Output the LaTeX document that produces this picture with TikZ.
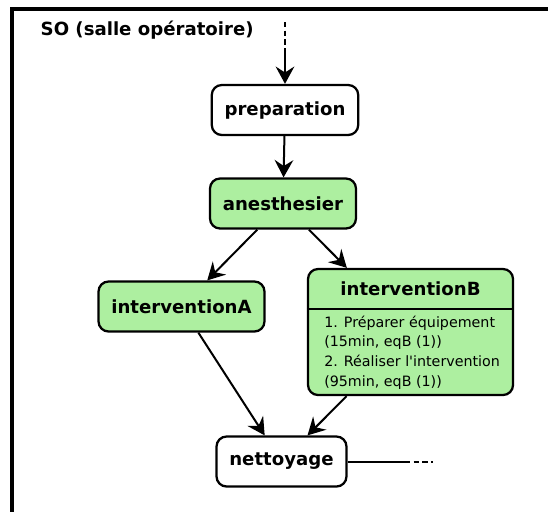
\documentclass[tikz,border=0pt]{standalone}
\usepackage{fontspec}
\setmainfont{DejaVu Sans}
\usetikzlibrary{arrows.meta}
\definecolor{actgreen}{RGB}{173,239,160}
\tikzset{
  x=0.75pt, y=-0.75pt,
  activity/.style={draw=black, line width=1.7pt, rounded corners=7.5pt,
    minimum height=37.5pt, inner xsep=9.6pt, inner ysep=0pt,
    font=\fontsize{13.6}{16}\selectfont\bfseries},
  flow/.style={line width=1.5pt, -{Stealth[length=13pt, width=14pt, inset=4.5pt]}},
  flowline/.style={line width=1.5pt},
  trail/.style={line width=1.5pt, dash pattern=on 4pt off 2.5pt}
}
\begin{document}
\begin{tikzpicture}
  \useasboundingbox (0,0) rectangle (548,511);
  \clip (0,0) rectangle (548,511);
  \fill[white] (0,0) rectangle (548,511);

  % swimlane frame and title
  \draw[line width=2.3pt] (12,530) -- (12,9) -- (560,9);
  \node[font=\fontsize{13.6}{16}\selectfont\bfseries, anchor=west] (lane) at (36,30) {SO (salle opératoire)};

  % activities
  \node[activity, fill=white] (prep) at (285,110) {preparation};
  \node[activity, fill=actgreen] (anest) at (283,203.5) {anesthesier};
  \node[activity, fill=actgreen] (intA) at (181.5,306.5) {interventionA};
  \node[activity, fill=actgreen, minimum width=153.75pt, minimum height=94.5pt,
        inner xsep=0pt] (intB) at (410.5,332) {};
  \node[font=\fontsize{13.6}{16}\selectfont\bfseries] (intBtitle) at (410.5,289) {interventionB};
  \draw[line width=1.7pt] (intB.west |- 0,309) coordinate (divL) -- (intB.east |- 0,309) coordinate (divR);
  \node[anchor=west, align=left, inner sep=0pt,
        font=\fontsize{10.7}{14.7}\selectfont] (intBbody) at (324,352.5)
        {1. Préparer équipement\\(15min, eqB (1))\\2. Réaliser l\textquotesingle intervention\\(95min, eqB (1))};
  \node[activity, fill=white] (clean) at (281.5,461.5) {nettoyage};

  % incoming and outgoing flow
  \coordinate (inTop) at (285,22);
  \coordinate (inMid) at (285,50);
  \draw[trail] (inTop) -- (inMid);
  \draw[flow] (inMid) -- (prep);
  \coordinate (outMid) at (405,462);
  \coordinate (outEnd) at (433,462);
  \draw[flowline] (clean.east |- outMid) -- (outMid);
  \draw[trail] (outMid) -- (outEnd);

  % transitions
  \draw[flow] (prep) -- (anest);
  \draw[flow] (anest) -- (intA);
  \draw[flow] (anest) -- (intB);
  \draw[flow] (intA) -- (clean);
  \draw[flow] (intB) -- (clean);
\end{tikzpicture}
\end{document}
